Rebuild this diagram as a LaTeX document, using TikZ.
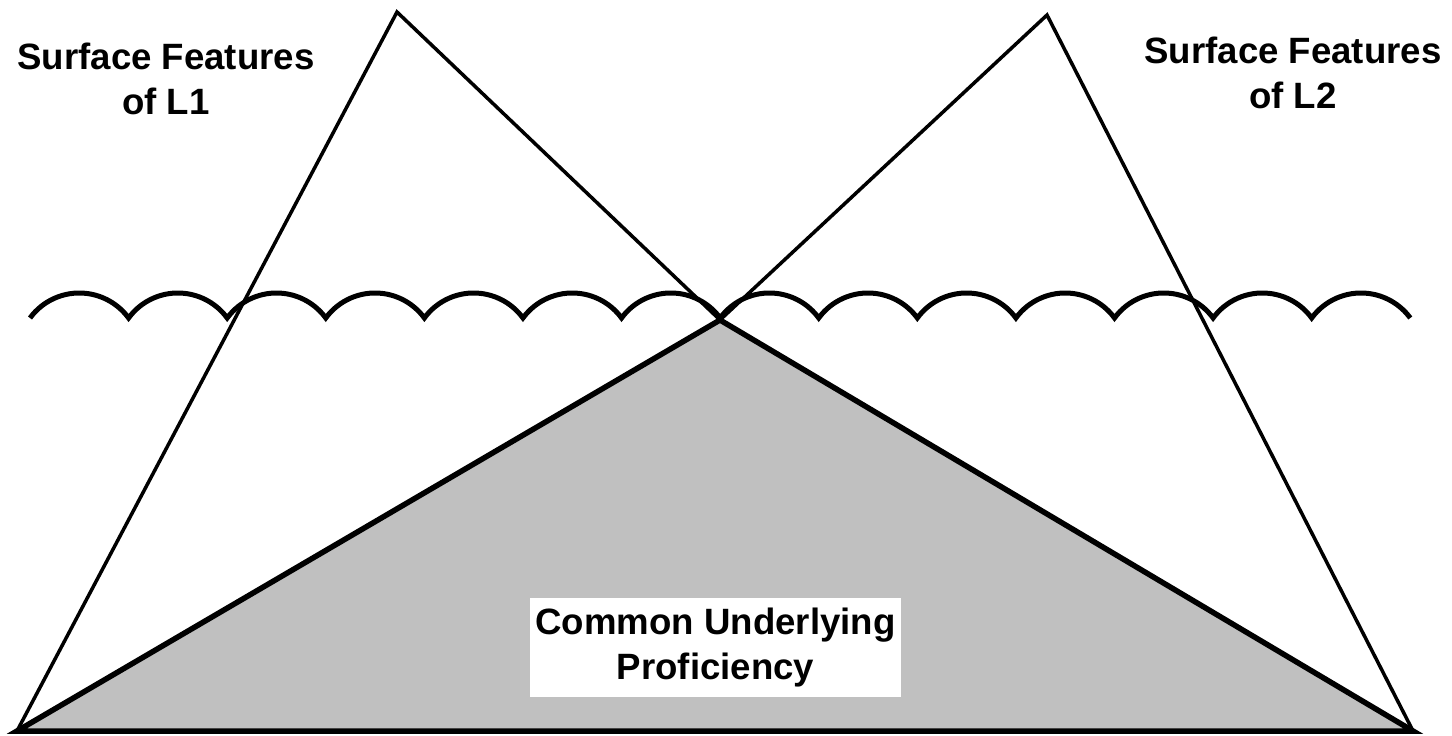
\documentclass[tikz,border=0pt]{standalone}
\usepackage{fontspec}
\setmainfont{Liberation Sans}
\usetikzlibrary{positioning}
\definecolor{CupGray}{RGB}{192,192,192}
\tikzset{
  thinedge/.style={draw=black,line width=0.07cm,line join=miter},
  cupedge/.style={draw=black,line width=0.11cm,line join=miter,fill=CupGray},
  wave/.style={draw=black,line width=0.1cm,line join=miter},
  feature/.style={font=\bfseries\fontsize{20.84}{26}\selectfont,align=center,
    inner sep=0pt},
  cupbox/.style={fill=white,font=\bfseries\fontsize{20.84}{26}\selectfont,
    align=center,minimum width=7.42cm,minimum height=1.98cm,inner sep=0pt}
}

\begin{document}
\begin{tikzpicture}[x=0.02cm,y=0.02cm]
  \useasboundingbox (0,0) rectangle (1452,735);
  \coordinate (bl) at (17,4);
  \coordinate (br) at (1413,4);
  \coordinate (mid) at (720,415);
  \coordinate (apexA) at (397,723);
  \coordinate (apexB) at (1047,720);
  \coordinate (waveL) at (30,417);
  \draw[cupedge] (bl) -- (mid) -- (br) -- cycle;
  \draw[thinedge] (bl) -- (apexA) -- (mid);
  \draw[thinedge] (mid) -- (apexB) -- (br);
  \draw[wave] (waveL) \foreach \k in {1,...,14}{
    arc[start angle=143.8,end angle=36.2,radius=61.09]
  };
  \node[feature] (labelL1) at (166,656) {Surface Features\\of L1};
  \node[feature] (labelL2) at (1293,662) {Surface Features\\of L2};
  \node[cupbox] (cup) at (715.5,87.5) {Common Underlying\\Proficiency};
\end{tikzpicture}
\end{document}
